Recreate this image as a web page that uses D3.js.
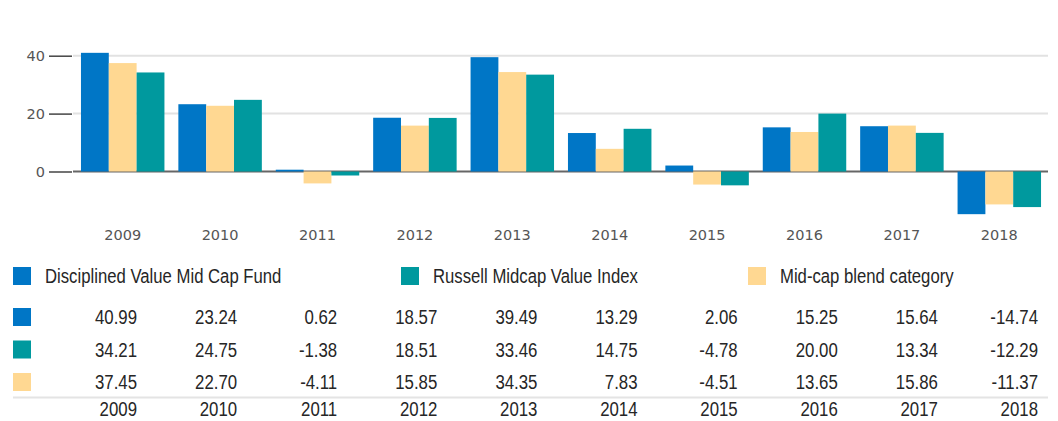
<!DOCTYPE html>
<html>
<head>
<meta charset="utf-8">
<script src="https://cdn.jsdelivr.net/npm/d3@7"></script>
<style>
  body { margin: 0; background: #fff; }
  svg { display: block; }
  .axis text { font-family: "DejaVu Sans", sans-serif; font-size: 14.5px; fill: #555; }
  .narrow { font-family: "Liberation Sans", sans-serif; font-size: 20px; fill: #262626; }
</style>
</head>
<body>
<svg id="chart" width="1058" height="421"></svg>
<script>
// calendar year returns (%)
var years = ["2009", "2010", "2011", "2012", "2013", "2014", "2015", "2016", "2017", "2018"];
var fund = [40.99, 23.24, 0.62, 18.57, 39.49, 13.29, 2.06, 15.25, 15.64, -14.74];
var index = [34.21, 24.75, -1.38, 18.51, 33.46, 14.75, -4.78, 20.00, 13.34, -12.29];
var category = [37.45, 22.70, -4.11, 15.85, 34.35, 7.83, -4.51, 13.65, 15.86, -11.37];
var yTicks = [0, 20, 40];

var seriesNames = ["Disciplined Value Mid Cap Fund", "Russell Midcap Value Index", "Mid-cap blend category"];
var seriesColors = ["#0076c6", "#00999e", "#ffd892"];

var svg = d3.select('#chart');

// plain hyphen for negatives, like the source table
var fmt = d3.formatLocale({ decimal: '.', thousands: ',', grouping: [3], currency: ['$', ''], minus: '-' }).format('.2f');

// squeeze text horizontally to mimic the condensed face
function squeeze(sel, k) {
  sel.each(function() {
    var len = this.getComputedTextLength();
    d3.select(this).attr('textLength', len * k).attr('lengthAdjust', 'spacingAndGlyphs');
  });
}

var series = [
  { key: 'fund', values: fund, color: seriesColors[0] },
  { key: 'index', values: index, color: seriesColors[1] },
  { key: 'category', values: category, color: seriesColors[2] }
];
// bars are drawn fund, category, index
var barOrder = ['fund', 'category', 'index'];

var x0 = d3.scaleBand().domain(years).range([74, 1048]).paddingInner(0.143).paddingOuter(0.0715);
var x1 = d3.scaleBand().domain(barOrder).range([0, x0.bandwidth()]);
var y = d3.scaleLinear().domain([0, 40]).range([171.5, 55.7]);

// gridlines
svg.append('g')
  .selectAll('line')
  .data(yTicks.filter(function(t) { return t !== 0; }))
  .join('line')
  .attr('x1', 73).attr('x2', 1048)
  .attr('y1', function(d) { return y(d); })
  .attr('y2', function(d) { return y(d); })
  .attr('stroke', '#e2e2e2')
  .attr('stroke-width', 2);

// y axis: short tick marks with labels
var yAxis = svg.append('g')
  .attr('class', 'axis')
  .attr('transform', 'translate(72,0)')
  .call(d3.axisLeft(y).tickValues(yTicks).tickSize(23).tickPadding(4).tickFormat(d3.format('d')));
yAxis.select('.domain').remove();
yAxis.selectAll('.tick line').attr('stroke', '#444').attr('stroke-width', 1.5);

// zero line
svg.append('line')
  .attr('x1', 73).attr('x2', 1048)
  .attr('y1', y(0)).attr('y2', y(0))
  .attr('stroke', '#666')
  .attr('stroke-width', 2);

// bars
var byKey = {};
series.forEach(function(s) { byKey[s.key] = s; });

var groups = svg.append('g')
  .selectAll('g')
  .data(years)
  .join('g')
  .attr('transform', function(d) { return 'translate(' + x0(d) + ',0)'; });

groups.selectAll('rect')
  .data(function(d, i) {
    return barOrder.map(function(k) { return { key: k, value: byKey[k].values[i] }; });
  })
  .join('rect')
  .attr('x', function(d) { return x1(d.key); })
  .attr('width', x1.bandwidth())
  .attr('y', function(d) { return y(Math.max(0, d.value)); })
  .attr('height', function(d) { return Math.abs(y(d.value) - y(0)); })
  .attr('fill', function(d) { return byKey[d.key].color; });

// year labels under the chart
svg.append('g')
  .attr('class', 'axis')
  .selectAll('text')
  .data(years)
  .join('text')
  .attr('x', function(d) { return x0(d) + x0.bandwidth() / 2; })
  .attr('y', 240)
  .attr('text-anchor', 'middle')
  .text(function(d) { return d; });

// legend
var legendX = d3.scaleOrdinal().domain(seriesNames).range([13, 401, 748]);
var legend = svg.append('g')
  .selectAll('g')
  .data(series)
  .join('g')
  .attr('transform', function(d, i) { return 'translate(' + legendX(seriesNames[i]) + ',267)'; });
legend.append('rect')
  .attr('width', 18).attr('height', 18)
  .attr('fill', function(d) { return d.color; });
legend.append('text')
  .attr('class', 'narrow')
  .attr('x', 32).attr('y', 16)
  .text(function(d, i) { return seriesNames[i]; })
  .call(squeeze, 0.835);

// table of values
var colX = d3.scalePoint().domain(years).range([137, 1038]);
var rowY = d3.scalePoint().domain(['fund', 'index', 'category']).range([324, 389]);

var rows = svg.append('g')
  .selectAll('g')
  .data(series)
  .join('g')
  .attr('transform', function(d) { return 'translate(0,' + rowY(d.key) + ')'; });
rows.append('rect')
  .attr('x', 13).attr('y', -16)
  .attr('width', 18).attr('height', 18)
  .attr('fill', function(d) { return d.color; });
rows.selectAll('text')
  .data(function(d) { return d.values; })
  .join('text')
  .attr('class', 'narrow')
  .attr('x', function(d, i) { return colX(years[i]); })
  .attr('text-anchor', 'end')
  .text(function(d) { return fmt(d); })
  .call(squeeze, 0.84);

svg.append('line')
  .attr('x1', 13).attr('x2', 1048)
  .attr('y1', 397.5).attr('y2', 397.5)
  .attr('stroke', '#e4e4e4')
  .attr('stroke-width', 2);

// year row at the foot of the table (the reference crops it at the edge)
svg.append('g')
  .selectAll('text')
  .data(years)
  .join('text')
  .attr('class', 'narrow')
  .attr('x', function(d) { return colX(d); })
  .attr('y', 416)
  .attr('text-anchor', 'end')
  .text(function(d) { return d; })
  .call(squeeze, 0.84);
</script>
</body>
</html>
